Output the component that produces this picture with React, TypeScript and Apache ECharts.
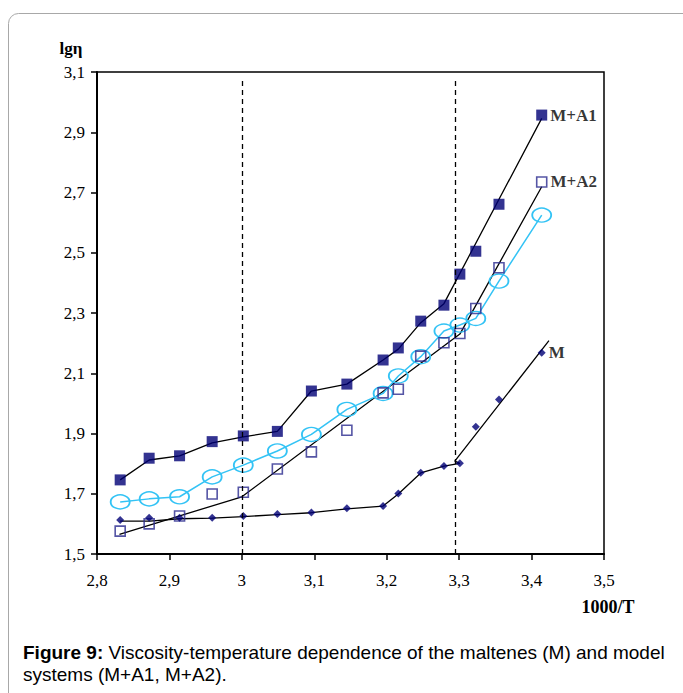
import React, { useEffect, useRef } from "react";
import * as echarts from "echarts";

// 1000/T values (shared by all series)
const xValues = [2.832, 2.872, 2.914, 2.959, 3.002, 3.049, 3.096, 3.145, 3.195, 3.216, 3.247, 3.279, 3.301, 3.323, 3.355, 3.414];

// lg(eta) measured values
const ma1Values = [1.746, 1.818, 1.826, 1.873, 1.892, 1.907, 2.041, 2.064, 2.144, 2.184, 2.273, 2.326, 2.429, 2.505, 2.661, 2.957];
const ma2Values = [1.576, 1.600, 1.626, 1.699, 1.705, 1.782, 1.839, 1.911, 2.035, 2.047, 2.157, 2.201, 2.232, 2.315, 2.450, 2.735];
const cyanValues = [1.673, 1.683, 1.690, 1.756, 1.795, 1.842, 1.897, 1.980, 2.033, 2.091, 2.155, 2.240, 2.260, 2.282, 2.406, 2.625];
const mValues = [1.613, 1.620, 1.620, 1.620, 1.626, 1.633, 1.638, 1.652, 1.659, 1.701, 1.770, 1.792, 1.801, 1.922, 2.013, 2.168];

// Fitted (trend) lines: [x, y] pairs
const ma1Fit: number[][] = [
  [2.832, 1.746], [2.872, 1.812], [2.914, 1.826], [2.959, 1.869], [3.002, 1.889], [3.049, 1.907],
  [3.096, 2.041], [3.145, 2.064], [3.195, 2.144], [3.216, 2.180], [3.247, 2.268], [3.279, 2.331], [3.414, 2.946],
];
const ma2Fit: number[][] = [[2.831, 1.565], [3.0, 1.690], [3.301, 2.230], [3.414, 2.719]];
const mFit: number[][] = [
  [2.832, 1.609], [2.873, 1.609], [2.914, 1.617], [2.959, 1.619], [3.002, 1.624], [3.049, 1.631],
  [3.096, 1.637], [3.145, 1.650], [3.195, 1.659], [3.216, 1.699], [3.247, 1.769], [3.279, 1.792],
  [3.301, 1.801], [3.294, 1.808], [3.424, 2.208],
];

// Vertical dashed reference lines at these 1000/T values
const dashedX = [3.0, 3.294];

const xTicks = { min: 2.8, max: 3.5, interval: 0.1 };
const yTicks = { min: 1.5, max: 3.1, interval: 0.2 };

const seriesNames = { ma1: "M+A1", ma2: "M+A2", m: "M" };

const SERIF = "'Liberation Serif', 'Times New Roman', serif";
const SANS = "'Liberation Sans', Arial, sans-serif";

const fmt = (v: number) => String(Math.round(v * 10) / 10).replace(".", ",");

function pts(vals: number[], label?: string) {
  return vals.map((y, i) => {
    if (label && i === vals.length - 1) {
      return {
        value: [xValues[i], y],
        label: {
          show: true,
          position: "right",
          distance: 3,
          formatter: label,
          fontFamily: SERIF,
          fontWeight: "bold",
          fontSize: 17,
          color: "#000",
        },
      };
    }
    return [xValues[i], y];
  });
}

export default function App() {
  const ref = useRef<HTMLDivElement>(null);
  useEffect(() => {
    if (!ref.current) return;
    const chart = echarts.init(ref.current, undefined, { renderer: "svg" });
    const option: any = {
      animation: false,
      backgroundColor: "#fff",
      textStyle: { fontFamily: SERIF },
      grid: {
        left: 97,
        right: 79,
        top: 72,
        bottom: 139,
        show: true,
        borderColor: "#000",
        borderWidth: 1.5,
      },
      xAxis: {
        type: "value",
        min: xTicks.min,
        max: xTicks.max,
        interval: xTicks.interval,
        axisLine: { show: true, onZero: false, lineStyle: { color: "#000", width: 2 } },
        axisTick: { show: true, inside: false, length: 6, lineStyle: { color: "#000", width: 1.5 } },
        axisLabel: { formatter: fmt, fontFamily: SERIF, fontSize: 17, color: "#000", margin: 18 },
        splitLine: { show: false },
      },
      yAxis: {
        type: "value",
        min: yTicks.min,
        max: yTicks.max,
        interval: yTicks.interval,
        axisLine: { show: true, onZero: false, lineStyle: { color: "#000", width: 2 } },
        axisTick: { show: true, inside: false, length: 6, lineStyle: { color: "#000", width: 1.5 } },
        axisLabel: { formatter: fmt, fontFamily: SERIF, fontSize: 17, color: "#000", margin: 12 },
        splitLine: { show: false },
      },
      graphic: [
        {
          type: "rect",
          shape: { x: 8.5, y: 13.5, width: 720, height: 720, r: 10 },
          style: { fill: "none", stroke: "#a8a8a8", lineWidth: 1 },
          z: -10,
        },
        {
          type: "text",
          x: 71,
          y: 48,
          style: {
            text: "lgη",
            fontFamily: SERIF,
            fontWeight: "bold",
            fontSize: 17,
            fill: "#000",
            align: "center",
            verticalAlign: "middle",
          },
        },
        {
          type: "text",
          x: 608,
          y: 607,
          style: {
            text: "1000/T",
            fontFamily: SERIF,
            fontWeight: "bold",
            fontSize: 18,
            fill: "#000",
            align: "center",
            verticalAlign: "middle",
          },
        },
        {
          type: "text",
          x: 23,
          y: 641,
          style: {
            text: "{b|Figure 9:} Viscosity-temperature dependence of the maltenes (M) and model\nsystems (M+A1, M+A2).",
            fontFamily: SANS,
            fontSize: 19,
            lineHeight: 22,
            fill: "#000",
            rich: {
              b: { fontFamily: SANS, fontWeight: "bold", fontSize: 19, lineHeight: 22 },
            },
          },
        },
      ],
      series: [
        {
          type: "line",
          name: "dashed",
          data: [],
          silent: true,
          markLine: {
            symbol: "none",
            silent: true,
            label: { show: false },
            lineStyle: { color: "#000", type: [5, 4], width: 1.3 },
            data: dashedX.map((x) => [
              { coord: [x, 1.5] },
              { coord: [x, 3.079] },
            ]),
          },
        },
        {
          type: "line",
          name: "M+A1 fit",
          data: ma1Fit,
          symbol: "none",
          lineStyle: { color: "#000", width: 1.3 },
          z: 2,
        },
        {
          type: "line",
          name: "M+A2 fit",
          data: ma2Fit,
          symbol: "none",
          lineStyle: { color: "#000", width: 1.3 },
          z: 2,
        },
        {
          type: "line",
          name: "M fit",
          data: mFit,
          symbol: "none",
          lineStyle: { color: "#000", width: 1.3 },
          z: 2,
        },
        {
          type: "line",
          name: "cyan",
          data: pts(cyanValues),
          symbol: "circle",
          symbolSize: [19, 14],
          showAllSymbol: true,
          lineStyle: { color: "#33C3F5", width: 1.5 },
          itemStyle: { color: "rgba(255,255,255,0)", borderColor: "#33C3F5", borderWidth: 1.6 },
          z: 3,
        },
        {
          type: "scatter",
          name: seriesNames.ma1,
          data: pts(ma1Values, seriesNames.ma1),
          symbol: "rect",
          symbolSize: 11,
          itemStyle: { color: "#000075" },
          z: 4,
        },
        {
          type: "scatter",
          name: seriesNames.ma2,
          data: pts(ma2Values, seriesNames.ma2),
          symbol: "rect",
          symbolSize: 10,
          itemStyle: { color: "rgba(255,255,255,0)", borderColor: "#2b2b8f", borderWidth: 1.6 },
          z: 4,
        },
        {
          type: "scatter",
          name: seriesNames.m,
          data: pts(mValues, seriesNames.m),
          symbol: "diamond",
          symbolSize: 8,
          itemStyle: { color: "#000075" },
          z: 4,
        },
      ],
    };
    chart.setOption(option);
    return () => chart.dispose();
  }, []);
  return (
    <div
      ref={ref}
      style={{ position: "fixed", left: 0, top: 0, width: 683, height: 693, background: "#fff" }}
    />
  );
}
